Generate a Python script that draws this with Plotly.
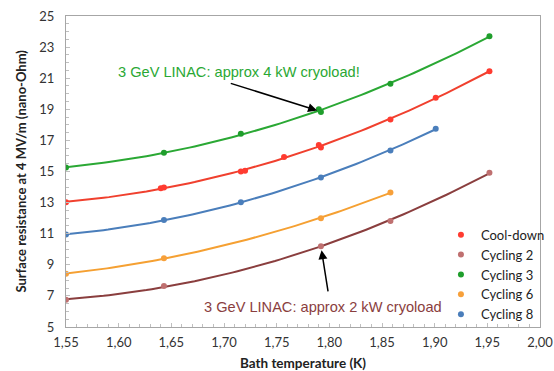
import numpy as np
import plotly.graph_objects as go

# ---- data ----
cool_x = [1.55, 1.640, 1.643, 1.716, 1.720, 1.757, 1.790, 1.792, 1.858, 1.901, 1.952]
cool_y = [13.02, 13.93, 13.97, 15.00, 15.05, 15.93, 16.70, 16.55, 18.35, 19.74, 21.45]

cyc2_x = [1.55, 1.643, 1.792, 1.858, 1.952]
cyc2_y = [6.75, 7.63, 10.19, 11.82, 14.92]

cyc3_x = [1.55, 1.643, 1.716, 1.790, 1.792, 1.858, 1.952]
cyc3_y = [15.26, 16.20, 17.42, 19.00, 18.82, 20.65, 23.70]

cyc6_x = [1.55, 1.643, 1.792, 1.858]
cyc6_y = [8.42, 9.42, 11.99, 13.65]

cyc8_x = [1.55, 1.643, 1.716, 1.792, 1.858, 1.901]
cyc8_y = [10.95, 11.88, 13.02, 14.62, 16.35, 17.75]

x_ticks = [1.55, 1.60, 1.65, 1.70, 1.75, 1.80, 1.85, 1.90, 1.95, 2.00]
x_tick_labels = ["1,55", "1,60", "1,65", "1,70", "1,75", "1,80", "1,85", "1,90", "1,95", "2,00"]
y_ticks = [5, 7, 9, 11, 13, 15, 17, 19, 21, 23, 25]

series = [
    ("Cool-down", cool_x, cool_y, "#ff3b30", "#f0402e"),
    ("Cycling 2", cyc2_x, cyc2_y, "#bf7070", "#8a3e3e"),
    ("Cycling 3", cyc3_x, cyc3_y, "#1f9e2c", "#2aa834"),
    ("Cycling 6", cyc6_x, cyc6_y, "#f7a03a", "#f5a032"),
    ("Cycling 8", cyc8_x, cyc8_y, "#4a7ebb", "#4a7ebb"),
]

fig = go.Figure()

# polynomial trendlines (2nd order fit of each series, like the spreadsheet trendline)
for name, xs, ys, mcol, lcol in series:
    coef = np.polyfit(xs, ys, 2)
    xt = np.linspace(min(xs), max(xs), 80)
    fig.add_trace(go.Scatter(x=xt, y=np.polyval(coef, xt), mode="lines",
                             line=dict(color=lcol, width=2), showlegend=False,
                             hoverinfo="skip"))

for name, xs, ys, mcol, lcol in series:
    fig.add_trace(go.Scatter(x=xs, y=ys, mode="markers", name=name,
                             marker=dict(color=mcol, size=6)))

fig.add_annotation(x=1.792, y=18.85, ax=1.705, ay=20.7, xref="x", yref="y",
                   axref="x", ayref="y", text="", showarrow=True,
                   arrowhead=2, arrowsize=1.2, arrowwidth=1.5, arrowcolor="#000000",
                   standoff=4)
fig.add_annotation(x=1.792, y=10.19, ax=1.799, ay=7.2, xref="x", yref="y",
                   axref="x", ayref="y", text="", showarrow=True,
                   arrowhead=2, arrowsize=1.2, arrowwidth=1.5, arrowcolor="#000000",
                   standoff=4)

fig.add_annotation(x=1.597, y=21.4, xref="x", yref="y", xanchor="left",
                   text="3 GeV LINAC: approx 4 kW cryoload!", showarrow=False,
                   font=dict(family="Liberation Sans, Arial", size=14.6, color="#2aa834"))
fig.add_annotation(x=1.679, y=6.3, xref="x", yref="y", xanchor="left",
                   text="3 GeV LINAC: approx 2 kW cryoload", showarrow=False,
                   font=dict(family="Liberation Sans, Arial", size=14.6, color="#8a3e3e"))

# y-axis title placed as rotated text next to the tick labels
fig.add_annotation(x=-0.097, y=0.5, xref="paper", yref="paper", xanchor="center",
                   yanchor="middle", textangle=-90, showarrow=False,
                   text="<b>Surface resistance at 4 MV/m (nano-Ohm)</b>",
                   font=dict(family="Lato, Open Sans", size=13, color="#222222"))

axis_common = dict(showgrid=False, zeroline=False, showline=True, linecolor="#a6a6a6",
                   linewidth=1, mirror=True, ticks="inside", ticklen=4,
                   tickcolor="#bfbfbf", automargin=False, ticklabeloverflow="allow",
                   tickfont=dict(family="Lato, Open Sans", size=13, color="#333333"))

fig.update_xaxes(range=[1.55, 2.00], tickvals=x_ticks, ticktext=x_tick_labels,
                 ticklabelstandoff=3,
                 minor=dict(dtick=0.01, ticks="inside", ticklen=3, tickcolor="#bfbfbf"),
                 title=dict(text="<b>Bath temperature (K)</b>", standoff=9,
                            font=dict(family="Lato, Open Sans", size=13.5, color="#222222")),
                 **axis_common)
fig.update_yaxes(range=[5, 25], tickvals=y_ticks, ticklabelstandoff=8,
                 minor=dict(dtick=0.5, ticks="inside", ticklen=3, tickcolor="#bfbfbf"),
                 **axis_common)

fig.update_layout(
    width=554, height=371,
    margin=dict(l=66, r=14, t=16, b=44, autoexpand=False),
    paper_bgcolor="white", plot_bgcolor="white",
    showlegend=True,
    legend=dict(x=0.791, y=0.345, xanchor="left", yanchor="top",
                font=dict(family="Lato, Open Sans", size=13, color="#222222"),
                bgcolor="rgba(0,0,0,0)", itemwidth=30, tracegroupgap=0),
)

fig.write_html("out.html")
